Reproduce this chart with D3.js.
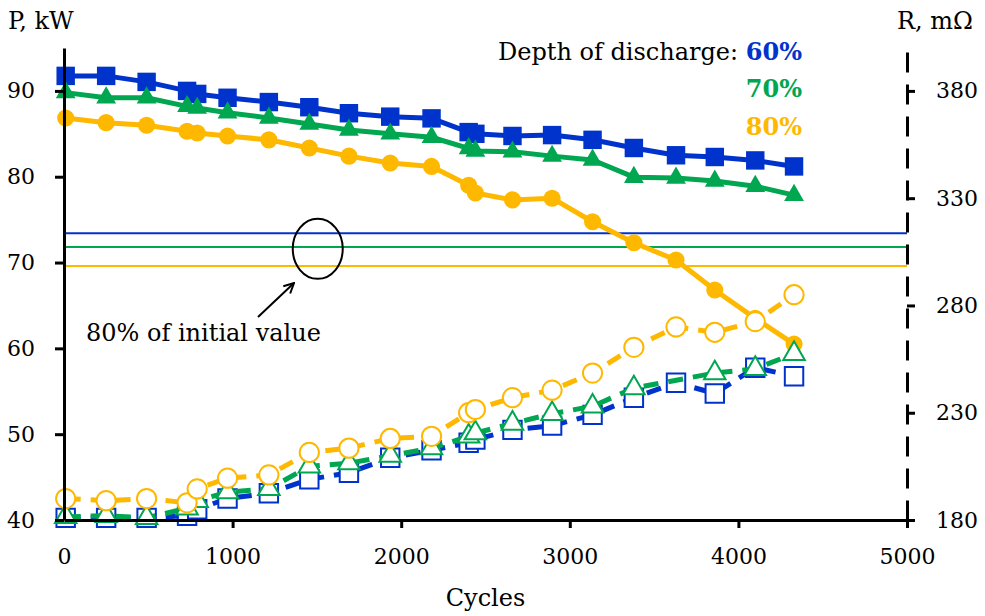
<!DOCTYPE html>
<html>
<head>
<meta charset="utf-8">
<script src="https://cdn.jsdelivr.net/npm/d3@7"></script>
<style>
  body { margin: 0; background: #fff; }
  text { font-family: "DejaVu Serif", serif; }
</style>
</head>
<body>
<div id="chart"></div>
<script>
// cycle counts shared by all series
const cycles = [10, 250, 490, 730, 790, 970, 1215, 1455, 1690, 1935, 2180, 2400, 2440, 2660, 2895, 3135, 3380, 3630, 3860, 4100, 4330];

// power, kW (left axis)
const power60 = [91.75, 91.75, 91.05, 90.0, 89.65, 89.2, 88.7, 88.1, 87.4, 87.0, 86.8, 85.2, 85.0, 84.75, 84.85, 84.3, 83.35, 82.5, 82.3, 81.9, 81.2];
const power70 = [89.8, 89.2, 89.2, 88.2, 88.0, 87.45, 86.85, 86.15, 85.45, 85.0, 84.6, 83.3, 83.0, 82.9, 82.4, 81.95, 79.95, 79.85, 79.5, 78.9, 77.85];
const power80 = [86.85, 86.3, 86.0, 85.3, 85.1, 84.75, 84.3, 83.35, 82.4, 81.6, 81.2, 79.0, 78.1, 77.3, 77.5, 74.75, 72.3, 70.3, 66.8, 63.5, 60.5];

// resistance, mOhm (right axis)
const resist60 = [181, 181, 181, 182, 185, 190, 192.5, 199, 202, 209, 212.5, 216, 217.5, 222, 224, 229, 237, 244, 239, 251, 247];
const resist70 = [181.5, 182, 181, 185.5, 189, 193, 194.5, 205, 206.5, 210, 213.5, 219, 220.5, 225, 229.5, 233, 241.5, null, 248.5, 250.5, 257.5];
const resist80 = [190, 189, 190, 188, 194.5, 199.5, 201, 211.5, 213.5, 218, 219, 230, 231.5, 237, 240.5, 248.5, 260.5, 270, 267.5, 272.5, 285];

// 80% of initial power for each depth of discharge
const thresholds = [73.4, 71.8, 69.6];

const depthLabels = ["60%", "70%", "80%"];
const xTicks = [0, 1000, 2000, 3000, 4000, 5000];
const pTicks = [40, 50, 60, 70, 80, 90];
const rTicks = [180, 230, 280, 330, 380];

const colors = ["#0033CC", "#00A650", "#FFB800"];

const width = 985;
const height = 616;
const tickFont = "22px";
const labelFont = "24px";

const svg = d3
  .select("#chart")
  .append("svg")
  .attr("width", width)
  .attr("height", height);

const x = d3.scaleLinear().domain([0, 5000]).range([64, 907]);
const yP = d3.scaleLinear().domain([40, 95]).range([520, 48]);
const yR = d3.scaleLinear().domain([180, 400]).range([520, 48]);

// reference lines at 80% of initial value
svg
  .selectAll(".ref")
  .data(thresholds)
  .enter()
  .append("line")
  .attr("class", "ref")
  .attr("x1", x(0))
  .attr("x2", x(5000))
  .attr("y1", (d) => yP(d))
  .attr("y2", (d) => yP(d))
  .attr("stroke", (d, i) => colors[i])
  .attr("stroke-width", 2);

const toPoints = (vals) =>
  cycles
    .map((c, i) => ({ c: c, v: vals[i] }))
    .filter((d) => d.v !== null);

const drawSeries = (vals, yScale, color, symbolType, symbolSize, open) => {
  const pts = toPoints(vals);
  const line = d3
    .line()
    .x((d) => x(d.c))
    .y((d) => yScale(d.v));

  svg
    .append("path")
    .datum(pts)
    .attr("d", line)
    .attr("fill", "none")
    .attr("stroke", color)
    .attr("stroke-width", 5)
    .attr("stroke-linejoin", "round")
    .attr("stroke-dasharray", open ? "15,10" : null);

  svg
    .append("g")
    .selectAll("path")
    .data(pts)
    .enter()
    .append("path")
    .attr("transform", (d) => `translate(${x(d.c)},${yScale(d.v)})`)
    .attr("d", d3.symbol().type(symbolType).size(symbolSize))
    .attr("fill", open ? "#fff" : color)
    .attr("stroke", open ? color : "none")
    .attr("stroke-width", open ? 2 : 0);
};

// power (solid lines, filled markers)
drawSeries(power60, yP, colors[0], d3.symbolSquare, 340, false);
drawSeries(power70, yP, colors[1], d3.symbolTriangle, 170, false);
drawSeries(power80, yP, colors[2], d3.symbolCircle, 230, false);

// resistance (dashed lines, open markers)
drawSeries(resist60, yR, colors[0], d3.symbolSquare, 340, true);
drawSeries(resist70, yR, colors[1], d3.symbolTriangle, 200, true);
drawSeries(resist80, yR, colors[2], d3.symbolCircle, 290, true);

// axes
const styleAxis = (g) => {
  g.attr("font-family", null).attr("font-size", null);
  g.selectAll("text").style("font-size", tickFont).attr("fill", "#000");
  g.selectAll("line").attr("stroke", "#000").attr("stroke-width", 3);
  g.select(".domain").attr("stroke", "#000").attr("stroke-width", 3);
};

const xAxis = svg
  .append("g")
  .attr("transform", "translate(0,520)")
  .call(
    d3.axisBottom(x).tickValues(xTicks).tickSize(8).tickSizeOuter(0).tickPadding(20).tickFormat(d3.format("d"))
  )
  .call(styleAxis);
// no tick mark below the origin
xAxis.selectAll(".tick").filter((d) => d === 0).select("line").remove();

svg
  .append("g")
  .attr("transform", "translate(64,0)")
  .call(d3.axisLeft(yP).tickValues(pTicks).tickSize(9).tickSizeOuter(0).tickPadding(20))
  .call(styleAxis);

const rAxis = svg
  .append("g")
  .attr("transform", "translate(907,0)")
  .call(d3.axisRight(yR).tickValues(rTicks).tickSize(8).tickSizeOuter(0).tickPadding(21))
  .call(styleAxis);
rAxis.select(".domain").attr("stroke-dasharray", "20,12");

// axis titles
svg.append("text").attr("x", 8).attr("y", 29).style("font-size", labelFont).text("P, kW");
svg.append("text").attr("x", 897).attr("y", 29).style("font-size", labelFont).text("R, mΩ");
svg
  .append("text")
  .attr("x", (x(0) + x(5000)) / 2)
  .attr("y", 606)
  .attr("text-anchor", "middle")
  .style("font-size", labelFont)
  .text("Cycles");

// legend
const legendRows = [60, 97, 135];
legendRows.forEach((yy, i) => {
  const t = svg
    .append("text")
    .attr("x", 802)
    .attr("y", yy)
    .attr("text-anchor", "end")
    .style("font-size", labelFont);
  if (i === 0) t.append("tspan").text("Depth of discharge: ");
  t.append("tspan")
    .attr("fill", colors[i])
    .attr("font-weight", "bold")
    .text(depthLabels[i]);
});

// annotation: ellipse, arrow and label
svg
  .append("ellipse")
  .attr("cx", x(1505))
  .attr("cy", yP(71.6))
  .attr("rx", 25)
  .attr("ry", 30)
  .attr("fill", "none")
  .attr("stroke", "#000")
  .attr("stroke-width", 2);

svg
  .append("defs")
  .append("marker")
  .attr("id", "arrowhead")
  .attr("viewBox", "0 0 12 12")
  .attr("refX", 11)
  .attr("refY", 6)
  .attr("markerWidth", 12)
  .attr("markerHeight", 12)
  .attr("markerUnits", "userSpaceOnUse")
  .attr("orient", "auto")
  .append("path")
  .attr("d", "M1,1 L11,6 L1,11")
  .attr("fill", "none")
  .attr("stroke", "#000")
  .attr("stroke-width", 2);

svg
  .append("line")
  .attr("x1", 258)
  .attr("y1", 317)
  .attr("x2", 294)
  .attr("y2", 283)
  .attr("stroke", "#000")
  .attr("stroke-width", 2)
  .attr("marker-end", "url(#arrowhead)");

svg
  .append("text")
  .attr("x", 86)
  .attr("y", 341)
  .style("font-size", labelFont)
  .text("80% of initial value");
</script>
</body>
</html>
